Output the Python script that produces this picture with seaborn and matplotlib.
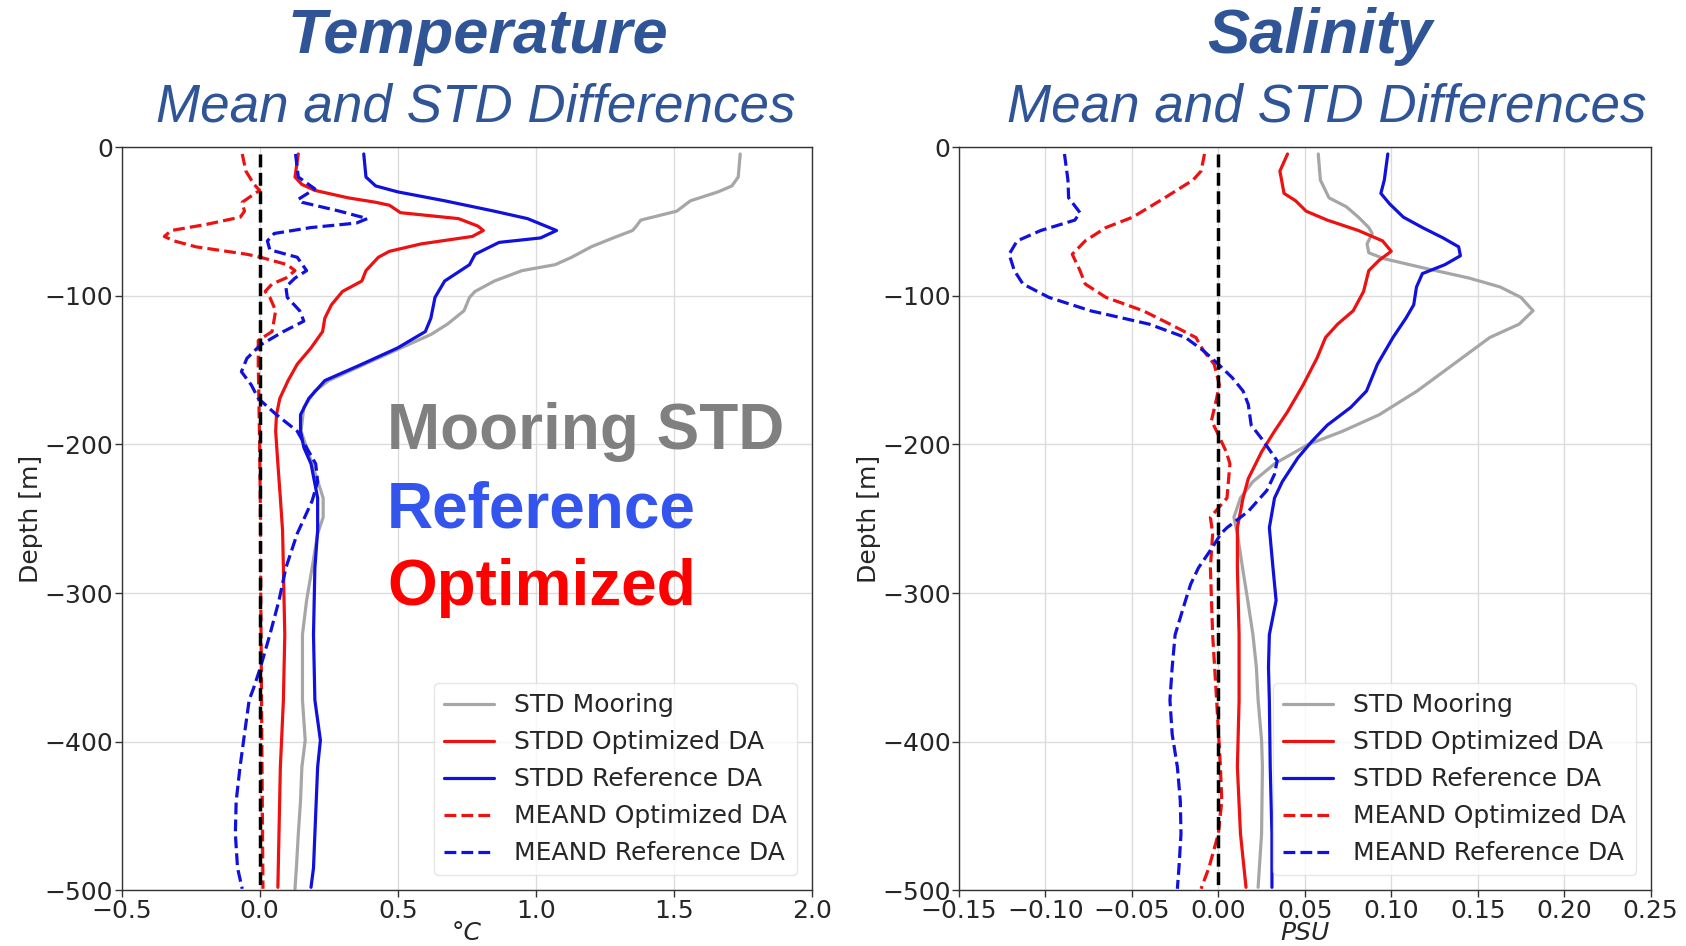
import matplotlib
matplotlib.use("Agg")
import matplotlib.pyplot as plt
import seaborn as sns

# ---------------- Temperature data ----------------
t_std_moor_d = [-4.5, -20, -26, -30, -36, -43, -49, -54, -56, -61, -67, -74, -79, -83, -90, -97, -101,
                -110, -119, -126, -146, -157, -164, -175, -191, -213, -236, -249, -260, -283, -305,
                -328, -350, -372, -399, -417, -440, -462, -485, -499]
t_std_moor = [1.74, 1.733, 1.71, 1.66, 1.56, 1.51, 1.38, 1.36, 1.35, 1.28, 1.20, 1.13, 1.07, 0.95, 0.85,
              0.78, 0.76, 0.74, 0.68, 0.62, 0.38, 0.25, 0.20, 0.16, 0.15, 0.19, 0.23, 0.23, 0.21, 0.19,
              0.17, 0.155, 0.155, 0.155, 0.165, 0.153, 0.148, 0.14, 0.133, 0.128]

t_stdd_ref_d = [-4.5, -20, -26, -30, -36, -43, -48, -56, -61, -64, -72, -79, -90, -101, -115, -124, -135,
                -146, -157, -169, -180, -191, -202, -213, -236, -258, -283, -328, -372, -399, -417,
                -462, -485, -498]
t_stdd_ref = [0.377, 0.385, 0.42, 0.50, 0.67, 0.85, 0.97, 1.075, 1.017, 0.867, 0.78, 0.76, 0.67, 0.635,
              0.62, 0.60, 0.50, 0.37, 0.236, 0.178, 0.148, 0.148, 0.16, 0.186, 0.21, 0.21, 0.20, 0.195,
              0.20, 0.22, 0.21, 0.20, 0.195, 0.186]

t_stdd_opt_d = [-4.5, -20, -25, -29, -34, -37, -39, -44, -48, -53, -56, -60, -65, -70, -74, -83, -90, -97,
                -106, -115, -124, -135, -146, -157, -169, -180, -191, -213, -236, -258, -283, -328,
                -372, -417, -462, -498]
t_stdd_opt = [0.14, 0.128, 0.153, 0.20, 0.32, 0.42, 0.47, 0.51, 0.72, 0.79, 0.81, 0.77, 0.585, 0.47,
              0.43, 0.385, 0.37, 0.30, 0.26, 0.236, 0.228, 0.186, 0.136, 0.103, 0.073, 0.061, 0.058,
              0.066, 0.075, 0.083, 0.086, 0.091, 0.086, 0.075, 0.07, 0.066]

t_mean_opt_d = [-4.5, -16, -25, -29, -34, -37, -43, -47, -52, -56, -60, -63, -67, -72, -74, -79, -83, -88,
                -92, -97, -101, -110, -124, -130, -146, -200, -250, -300, -350, -400, -450, -499]
t_mean_opt = [-0.063, -0.05, -0.02, 0.0, -0.04, -0.063, -0.055, -0.07, -0.196, -0.32, -0.345, -0.31,
              -0.23, -0.046, 0.003, 0.10, 0.128, 0.095, 0.045, 0.02, 0.037, 0.058, 0.045, -0.005, -0.005,
              0.0, 0.003, 0.004, 0.006, 0.008, 0.01, 0.012]

t_mean_ref_d = [-4.5, -20, -28, -35, -37, -43, -48, -51, -54, -58, -63, -69, -74, -83, -88, -94, -101,
                -110, -117, -124, -133, -142, -151, -160, -169, -180, -191, -213, -225, -238, -260,
                -283, -305, -328, -350, -364, -372, -395, -417, -440, -462, -485, -499]
t_mean_ref = [0.13, 0.14, 0.20, 0.14, 0.153, 0.29, 0.39, 0.35, 0.186, 0.053, 0.028, 0.037, 0.136, 0.17,
              0.128, 0.095, 0.10, 0.145, 0.16, 0.086, 0.003, -0.046, -0.066, -0.03, -0.005, 0.061, 0.136,
              0.203, 0.21, 0.19, 0.136, 0.095, 0.07, 0.037, 0.003, -0.022, -0.038, -0.055, -0.071,
              -0.085, -0.088, -0.08, -0.063]

# ---------------- Salinity data ----------------
s_std_moor_d = [-4.5, -22, -34, -40, -47, -54, -58, -65, -71, -75, -81, -88, -94, -101, -110, -119, -128,
                -146, -164, -180, -191, -200, -213, -225, -236, -249, -260, -283, -305, -328, -350,
                -372, -399, -417, -462, -498]
s_std_moor = [0.0578, 0.059, 0.064, 0.074, 0.081, 0.087, 0.089, 0.086, 0.087, 0.096, 0.118, 0.145, 0.163,
              0.175, 0.182, 0.174, 0.157, 0.136, 0.115, 0.093, 0.072, 0.052, 0.0325, 0.020, 0.0128,
              0.009, 0.011, 0.014, 0.017, 0.020, 0.022, 0.023, 0.025, 0.0255, 0.025, 0.023]

s_stdd_ref_d = [-4.5, -22, -31, -38, -47, -54, -61, -67, -73, -79, -85, -94, -106, -115, -128, -146, -164,
                -175, -187, -198, -209, -225, -236, -256, -283, -305, -328, -350, -372, -417, -462, -498]
s_stdd_ref = [0.098, 0.096, 0.094, 0.099, 0.107, 0.118, 0.13, 0.139, 0.140, 0.131, 0.118, 0.1146, 0.113,
              0.1085, 0.101, 0.092, 0.0857, 0.0766, 0.063, 0.054, 0.046, 0.037, 0.0325, 0.0295, 0.0316,
              0.0334, 0.0295, 0.029, 0.0295, 0.030, 0.031, 0.031]

s_stdd_opt_d = [-4.5, -16, -31, -36, -43, -49, -56, -63, -70, -76, -83, -97, -110, -119, -128, -142, -160,
                -178, -191, -205, -223, -236, -256, -283, -328, -372, -417, -462, -498]
s_stdd_opt = [0.040, 0.0356, 0.038, 0.0447, 0.0508, 0.063, 0.081, 0.095, 0.100, 0.093, 0.087, 0.084,
              0.078, 0.069, 0.062, 0.057, 0.049, 0.040, 0.0325, 0.025, 0.0173, 0.0143, 0.011, 0.011,
              0.012, 0.012, 0.011, 0.0128, 0.016]

s_mean_opt_d = [-4.5, -16, -22, -34, -47, -54, -63, -72, -83, -92, -101, -110, -119, -128, -137, -146,
                -160, -169, -184, -191, -205, -213, -236, -249, -260, -283, -328, -372, -417, -440, -462,
                -485, -499]
s_mean_opt = [-0.008, -0.010, -0.0146, -0.031, -0.0495, -0.065, -0.077, -0.0845, -0.080, -0.077, -0.065,
              -0.0435, -0.028, -0.013, -0.0085, -0.0024, 0.0006, -0.001, -0.004, -0.001, 0.0046, 0.0067,
              0.005, -0.0046, -0.0033, -0.0046, -0.0033, -0.001, 0.0012, 0.002, 0.0, -0.0055, -0.010]

s_mean_ref_d = [-4.5, -22, -34, -44, -49, -56, -63, -72, -83, -92, -101, -110, -119, -128, -137, -146,
                -155, -164, -173, -187, -196, -211, -220, -231, -245, -256, -260, -269, -283, -294, -305,
                -328, -350, -372, -395, -417, -440, -462, -485, -499]
s_mean_ref = [-0.089, -0.087, -0.0866, -0.080, -0.083, -0.1027, -0.1164, -0.121, -0.118, -0.113, -0.098,
              -0.074, -0.040, -0.019, -0.0085, 0.0, 0.008, 0.0143, 0.0173, 0.019, 0.025, 0.034, 0.0325,
              0.028, 0.0173, 0.005, 0.0015, -0.0033, -0.0115, -0.016, -0.019, -0.025, -0.0267, -0.028,
              -0.0267, -0.0237, -0.022, -0.0216, -0.0228, -0.0237]

zero_line_d = [-4.5, -500]
zero_line_x = [0.0, 0.0]

labels = ["STD Mooring", "STDD Optimized DA", "STDD Reference DA", "MEAND Optimized DA", "MEAND Reference DA"]
t_xticks = [-0.5, 0.0, 0.5, 1.0, 1.5, 2.0]
s_xticks = [-0.15, -0.10, -0.05, 0.00, 0.05, 0.10, 0.15, 0.20, 0.25]
yticks = [0, -100, -200, -300, -400, -500]

# ---------------- Style ----------------
sns.set_theme(style="ticks")
plt.rcParams['font.family'] = ['DejaVu Sans']

FS = 18
fig = plt.figure(figsize=(16.86, 9.46), dpi=100)
ax1 = fig.add_axes([0.0721, 0.0589, 0.4095, 0.7854])
ax2 = fig.add_axes([0.5688, 0.0589, 0.4102, 0.7854])

GRAY = "#a6a6a6"
RED = "#ee1111"
BLUE = "#1111dd"
LW = 2.3


def draw(ax, series, xticks, xlim, xlabel, xtlabels):
    styles = [(GRAY, "-"), (RED, "-"), (BLUE, "-"), (RED, "--"), (BLUE, "--")]
    handles = []
    for (xv, dv), (c, ls), lab in zip(series, styles, labels):
        sns.lineplot(x=xv, y=dv, sort=False, estimator=None, color=c, linestyle=ls,
                     linewidth=LW, ax=ax, label=lab, legend=False)
        handles.append(ax.get_lines()[-1])
    sns.lineplot(x=zero_line_x, y=zero_line_d, sort=False, estimator=None, color="black",
                 linestyle="--", linewidth=LW + 0.2, ax=ax, legend=False)
    ax.set_xlim(*xlim)
    ax.set_ylim(-500, 0)
    ax.set_xticks(xticks)
    ax.set_xticklabels(xtlabels)
    ax.set_yticks(yticks)
    ax.set_yticklabels([f"{v:d}".replace("-", "\u2212") for v in yticks])
    ax.grid(True, color="#dcdcdc", linewidth=1.0)
    ax.set_axisbelow(True)
    for s in ax.spines.values():
        s.set_color("#333333")
        s.set_linewidth(1.0)
    ax.tick_params(labelsize=FS, length=5, width=1, color="#333333", pad=1)
    ax.set_xlabel(xlabel, fontsize=FS, style="italic", labelpad=-1)
    ax.set_ylabel("Depth [m]", fontsize=FS, labelpad=1)
    ax.legend(handles=handles, labels=labels, loc="lower right", fontsize=FS,
              labelspacing=0.52, borderaxespad=0.6, framealpha=0.8, edgecolor="#e0e0e0",
              handlelength=2.0)


draw(ax1,
     [(t_std_moor, t_std_moor_d), (t_stdd_opt, t_stdd_opt_d), (t_stdd_ref, t_stdd_ref_d),
      (t_mean_opt, t_mean_opt_d), (t_mean_ref, t_mean_ref_d)],
     t_xticks, (-0.5, 2.0), "\u00b0C",
     [f"{v:.1f}".replace("-", "\u2212") for v in t_xticks])
draw(ax2,
     [(s_std_moor, s_std_moor_d), (s_stdd_opt, s_stdd_opt_d), (s_stdd_ref, s_stdd_ref_d),
      (s_mean_opt, s_mean_opt_d), (s_mean_ref, s_mean_ref_d)],
     s_xticks, (-0.15, 0.25), "PSU",
     [f"{v:.2f}".replace("-", "\u2212") for v in s_xticks])

# ---------------- Titles ----------------
TCOL = "#2f5597"
fig.text(478 / 1686, 1 - 53 / 946, "Temperature", ha="center", va="baseline", fontsize=45.5,
         fontweight="bold", style="italic", color=TCOL, family="Liberation Sans")
fig.text(476 / 1686, 1 - 122 / 946, "Mean and STD Differences", ha="center", va="baseline",
         fontsize=38.2, style="italic", color=TCOL, family="Liberation Sans")
fig.text(1320 / 1686, 1 - 53 / 946, "Salinity", ha="center", va="baseline", fontsize=45.5,
         fontweight="bold", style="italic", color=TCOL, family="Liberation Sans")
fig.text(1327 / 1686, 1 - 122 / 946, "Mean and STD Differences", ha="center", va="baseline",
         fontsize=38.2, style="italic", color=TCOL, family="Liberation Sans")

# ---------------- Overlay labels ----------------
fig.text(387 / 1686, 1 - 449 / 946, "Mooring STD", ha="left", va="baseline", fontsize=46,
         fontweight="bold", color="#808080", family="Liberation Sans")
fig.text(387 / 1686, 1 - 527 / 946, "Reference", ha="left", va="baseline", fontsize=46,
         fontweight="bold", color="#3355ee", family="Liberation Sans")
fig.text(387 / 1686, 1 - 605 / 946, "Optimized", ha="left", va="baseline", fontsize=46,
         fontweight="bold", color="#ff0000", family="Liberation Sans")

fig.savefig("out.png", dpi=100)
